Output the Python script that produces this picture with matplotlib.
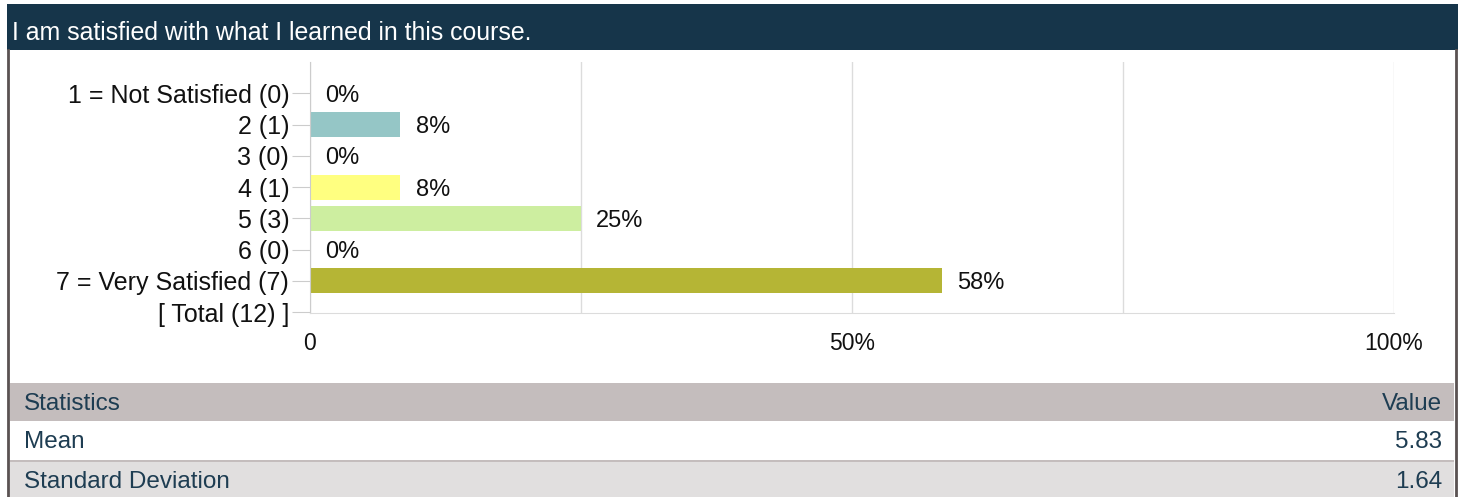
import matplotlib.pyplot as plt
from matplotlib.patches import Rectangle
from matplotlib.lines import Line2D

W, H = 1458, 497

title = "I am satisfied with what I learned in this course."
categories = ["1 = Not Satisfied (0)", "2 (1)", "3 (0)", "4 (1)", "5 (3)", "6 (0)",
              "7 = Very Satisfied (7)", "[ Total (12) ]"]
percents = [0, 8.33, 0, 8.33, 25, 0, 58.33]
bar_colors = ["#ffffff", "#95c6c6", "#ffffff", "#ffff80", "#cdeea0", "#ffffff", "#b5b535"]
xticks = [0, 50, 100]
xtick_labels = ["0", "50%", "100%"]
stat_names = ["Mean", "Standard Deviation"]
stat_values = ["5.83", "1.64"]

plt.rcParams['font.family'] = ['Liberation Sans', 'DejaVu Sans']

fig = plt.figure(figsize=(W / 100, H / 100), dpi=100)
fig.patch.set_facecolor("white")


def fx(px):
    return px / W


def fy(py):
    return 1 - py / H


def box(x0, y0, x1, y1, color):
    fig.patches.append(Rectangle((fx(x0), fy(y1)), fx(x1 - x0), (y1 - y0) / H,
                                 transform=fig.transFigure, facecolor=color,
                                 edgecolor="none", zorder=0))


# header band
box(7, 4, W, 50, "#16354a")
fig.text(fx(12), fy(30), title, color="white", fontsize=17.9, va="center_baseline", ha="left")

# outer frame
fig.lines.append(Line2D([fx(8), fx(8)], [fy(50), fy(H)], transform=fig.transFigure,
                        color="#5a5252", lw=2))
fig.lines.append(Line2D([fx(1456), fx(1456)], [fy(50), fy(H)], transform=fig.transFigure,
                        color="#5a5252", lw=2))

# bar chart
ax = fig.add_axes([fx(310), fy(313), fx(1394 - 310), (313 - 62) / H])
ypos = list(range(len(categories)))
ax.barh(ypos[:len(percents)], percents, height=0.8, color=bar_colors, zorder=2)
for i, p in enumerate(percents):
    ax.annotate(f"{p:.0f}%", (p, i), xytext=(11, 0), textcoords="offset points",
                va="center_baseline", ha="left", fontsize=17, color="#111111")

ax.set_xlim(0, 100)
ax.set_ylim(7.03, -1)
ax.set_yticks(ypos)
ax.set_yticklabels(categories, fontsize=18, color="#111111")
ax.set_xticks(xticks)
ax.set_xticklabels(xtick_labels, fontsize=16.5, color="#111111")
ax.tick_params(axis="y", length=13, color="#cccccc", pad=2)
ax.tick_params(axis="x", length=0, pad=14)
ax.set_xticks([25, 75], minor=True)
ax.tick_params(axis="x", which="minor", length=0)
ax.grid(True, axis="x", which="both", color="#dcdcdc", lw=1, zorder=0)
for s in ["top", "right"]:
    ax.spines[s].set_visible(False)
ax.spines["left"].set_color("#cccccc")
ax.spines["bottom"].set_color("#dcdcdc")

# statistics table
box(10, 383, 1454, 421, "#c4bdbd")
box(10, 421, 1454, 460, "#ffffff")
box(10, 460, 1454, 462, "#c4bdbd")
box(10, 462, 1454, H, "#e1dfdf")
txt = "#1e3d52"
fig.text(fx(24), fy(401), "Statistics", color=txt, fontsize=17.5, va="center_baseline")
fig.text(fx(1442), fy(401), "Value", color=txt, fontsize=17.5, va="center_baseline", ha="right")
for name, val, yc in zip(stat_names, stat_values, [440, 480]):
    fig.text(fx(24), fy(yc), name, color=txt, fontsize=17.5, va="center_baseline")
    fig.text(fx(1442), fy(yc), val, color=txt, fontsize=17.5, va="center_baseline", ha="right")

fig.savefig("out.png", dpi=100)
